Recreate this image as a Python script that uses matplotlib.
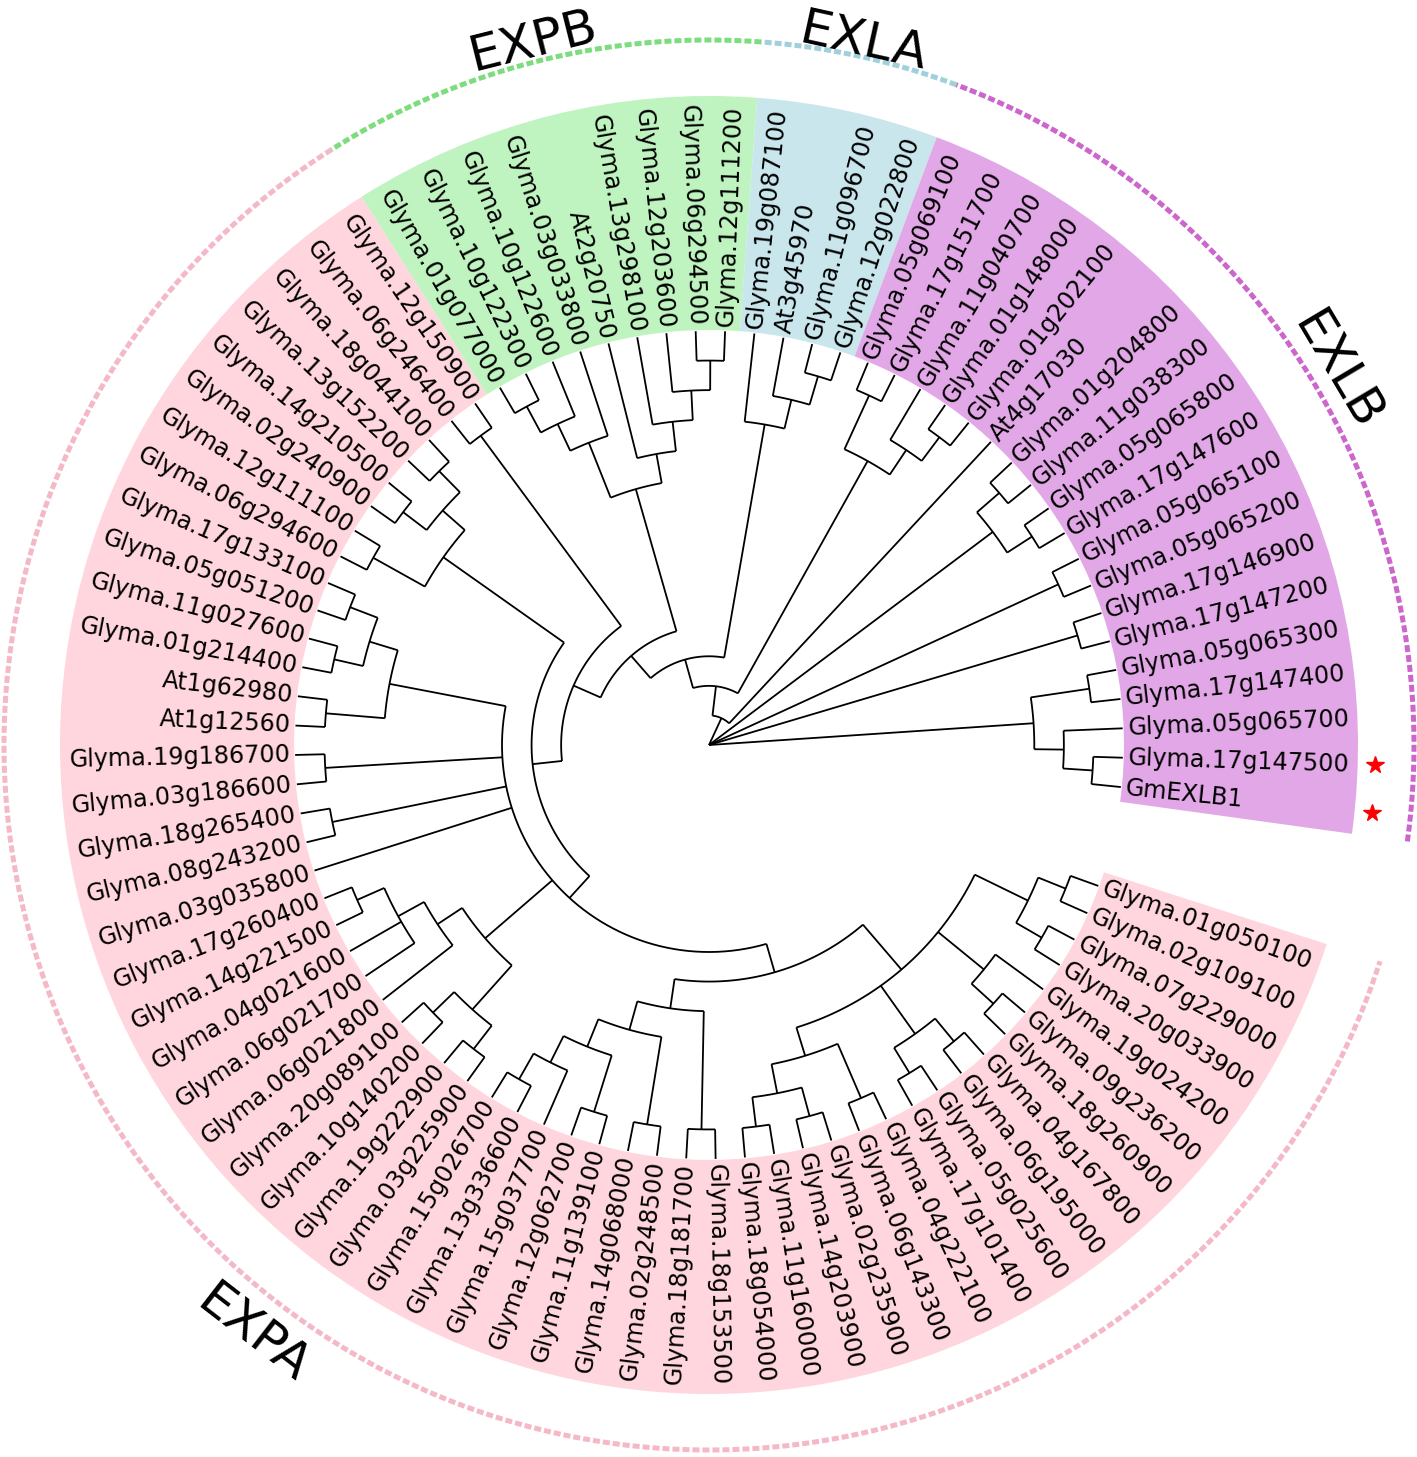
import numpy as np
import matplotlib
import matplotlib.pyplot as plt
from matplotlib.patches import Wedge
from matplotlib.collections import LineCollection

matplotlib.use('Agg')

# cladogram topology, leaves listed clockwise starting after the open gap
tree_newick = (
    "((((((((("
    "(((Glyma.01g050100,Glyma.02g109100),(Glyma.07g229000,Glyma.20g033900)),"
    "(Glyma.19g024200,(Glyma.09g236200,Glyma.18g260900)),"
    "((Glyma.04g167800,Glyma.06g195000),(Glyma.05g025600,Glyma.17g101400)),"
    "((Glyma.04g222100,Glyma.06g143300),((Glyma.02g235900,Glyma.14g203900),"
    "(Glyma.11g160000,Glyma.18g054000)))),"
    "((Glyma.18g153500,Glyma.18g181700),((Glyma.02g248500,Glyma.14g068000),"
    "((Glyma.11g139100,Glyma.12g062700),(Glyma.15g037700,(Glyma.13g336600,Glyma.15g026700)))))),"
    "(((Glyma.03g225900,Glyma.19g222900),(Glyma.10g140200,Glyma.20g089100)),"
    "(Glyma.06g021800,(Glyma.06g021700,Glyma.04g021600,(Glyma.14g221500,Glyma.17g260400)))),"
    "Glyma.03g035800,(Glyma.08g243200,Glyma.18g265400),(Glyma.03g186600,Glyma.19g186700),"
    "((At1g12560,At1g62980),((Glyma.01g214400,Glyma.11g027600),(Glyma.05g051200,Glyma.17g133100)))),"
    "((Glyma.06g294600,Glyma.12g111100),((Glyma.02g240900,Glyma.14g210500),"
    "(Glyma.13g152200,Glyma.18g044100)))),"
    "(Glyma.06g246400,Glyma.12g150900)),"
    "((((Glyma.01g077000,Glyma.10g122300),Glyma.10g122600),Glyma.03g033800),"
    "(At2g20750,(Glyma.13g298100,(Glyma.12g203600,(Glyma.06g294500,Glyma.12g111200)))))),"
    "(Glyma.19g087100,(At3g45970,(Glyma.11g096700,Glyma.12g022800)))),"
    "((Glyma.05g069100,Glyma.17g151700),(Glyma.11g040700,(Glyma.01g148000,Glyma.01g202100)))),"
    "At4g17030),"
    "((Glyma.01g204800,Glyma.11g038300),(Glyma.05g065800,Glyma.17g147600)),"
    "(Glyma.05g065100,Glyma.05g065200),"
    "(Glyma.17g146900,Glyma.17g147200),"
    "((Glyma.05g065300,Glyma.17g147400),(Glyma.05g065700,(Glyma.17g147500,GmEXLB1))));"
)

clades = ['EXPA', 'EXPB', 'EXLA', 'EXLB']
clade_first = ['Glyma.01g050100', 'Glyma.01g077000', 'Glyma.19g087100', 'Glyma.05g069100']
clade_last = ['Glyma.12g150900', 'Glyma.12g111200', 'Glyma.12g022800', 'GmEXLB1']
clade_fill = ['#ffd6dd', '#bff3c0', '#c9e6ec', '#e2a7e6']
clade_dash = ['#f4b8c7', '#7ddc7d', '#9fd0dc', '#cc66cc']
clade_label_r = [745, 725, 720, 731]
starred = ['Glyma.17g147500', 'GmEXLB1']

# layout (pixels)
W, H = 1417, 1457
CX, CY = 709, H - 745
TIP_R = 414
LABEL_R = 419
SECTOR_IN, SECTOR_OUT = 415, 649
DASH_R = 705
STAR_R = 666
START_ANGLE = 340.1
OPEN_ANGLE = 10


def parse_newick(s):
    pos = 0

    def node():
        nonlocal pos
        if s[pos] == '(':
            pos += 1
            kids = [node()]
            while s[pos] == ',':
                pos += 1
                kids.append(node())
            pos += 1
            return kids
        start = pos
        while s[pos] not in ',();':
            pos += 1
        return s[start:pos]
    return node()


def leaves_of(n):
    if isinstance(n, str):
        return [n]
    out = []
    for c in n:
        out += leaves_of(c)
    return out


def height(n):
    if isinstance(n, str):
        return 0
    return 1 + max(height(c) for c in n)


def xy(r, a):
    t = np.deg2rad(a)
    return CX + r * np.cos(t), CY + r * np.sin(t)


tree = parse_newick(tree_newick)
leaves = leaves_of(tree)
step = (360.0 - OPEN_ANGLE) / len(leaves)
leaf_angle = {name: START_ANGLE - i * step for i, name in enumerate(leaves)}
unit = TIP_R / height(tree)

segs = []


def layout(n):
    if isinstance(n, str):
        return leaf_angle[n], TIP_R
    kids = [layout(c) for c in n]
    r = TIP_R - height(n) * unit
    angs = [k[0] for k in kids]
    for a, rk in kids:
        segs.append([xy(r, a), xy(rk, a)])
    if r > 0:
        t = np.linspace(min(angs), max(angs), 60)
        px, py = xy(r, t)
        segs.append(np.column_stack([px, py]))
    return (min(angs) + max(angs)) / 2, r


layout(tree)

fig = plt.figure(figsize=(W / 100, H / 100), dpi=100)
ax = fig.add_axes([0, 0, 1, 1])
ax.set_xlim(0, W)
ax.set_ylim(0, H)
ax.set_aspect('equal')
ax.axis('off')

# clade sectors, dashed rings and clade names
for name, first, last, fc, dc, lr in zip(clades, clade_first, clade_last,
                                         clade_fill, clade_dash, clade_label_r):
    lo = leaf_angle[last] - step / 2
    hi = leaf_angle[first] + step / 2
    ax.add_patch(Wedge((CX, CY), SECTOR_OUT, lo, hi, width=SECTOR_OUT - SECTOR_IN,
                       facecolor=fc, edgecolor='none', zorder=0))
    t = np.linspace(lo, hi, 500)
    px, py = xy(DASH_R, t)
    ax.plot(px, py, color=dc, lw=3.6, ls=(0, (1.4, 0.6)), dash_capstyle='butt', zorder=1)
    mid = (lo + hi) / 2
    rot = mid - 270 if np.sin(np.deg2rad(mid)) < 0 else mid - 90
    tx, ty = xy(lr, mid)
    ax.text(tx, ty, name, fontsize=36, rotation=rot, ha='center', va='center',
            rotation_mode='anchor')

ax.add_collection(LineCollection(segs, colors='black', linewidths=1.3, zorder=2))

# tip labels
for name in leaves:
    a = leaf_angle[name] % 360
    tx, ty = xy(LABEL_R, a)
    if 90 < a < 270:
        rot, ha = a - 180, 'right'
    else:
        rot, ha = (a if a <= 90 else a - 360), 'left'
    ax.text(tx, ty, name, fontsize=17.2, rotation=rot, ha=ha, va='center',
            rotation_mode='anchor', zorder=3)

for name in starred:
    sx, sy = xy(STAR_R, leaf_angle[name])
    ax.plot(sx, sy, marker='*', color='red', markersize=13, ls='none', zorder=3)

fig.savefig('out.png', dpi=100)
